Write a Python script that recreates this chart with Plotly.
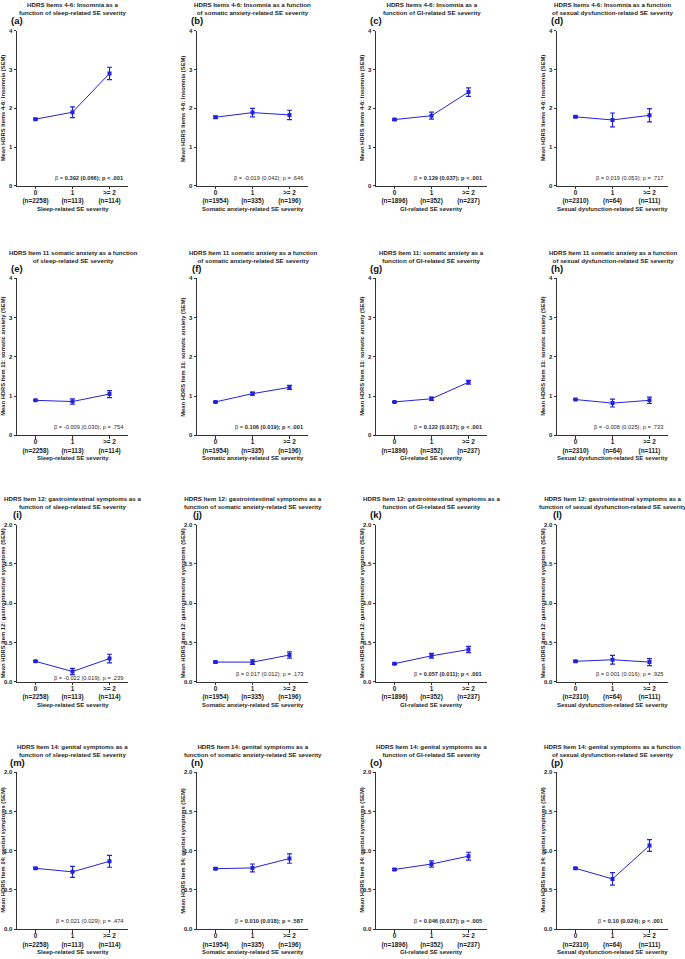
import plotly.graph_objects as go

# ---------------- data ----------------
categories = ["0", "1", ">= 2"]
cat_x = [0, 1, 2]
panel_letters = ["a", "b", "c", "d", "e", "f", "g", "h", "i", "j", "k", "l", "m", "n", "o", "p"]

predictor_titles = ["Sleep-related SE severity", "Somatic anxiety-related SE severity",
                    "GI-related SE severity", "Sexual dysfunction-related SE severity"]
n_sleep = [2258, 113, 114]
n_somatic = [1954, 335, 196]
n_gi = [1896, 352, 237]
n_sexual = [2310, 64, 111]

outcome_ylabels = ["Mean HDRS Items 4-6: Insomnia (SEM)",
                   "Mean HDRS Item 11: somatic anxiety (SEM)",
                   "Mean HDRS Item 12: gastrointestinal symptoms (SEM)",
                   "Mean HDRS Item 14: genital symptoms (SEM)"]

insomnia_titles = ["HDRS Items 4-6: Insomnia as a<br>function of sleep-related SE severity",
                   "HDRS Items 4-6: Insomnia as a function<br>of somatic anxiety-related SE severity",
                   "HDRS Items 4-6: Insomnia as a<br>function of GI-related SE severity",
                   "HDRS Items 4-6: Insomnia as a function<br>of sexual dysfunction-related SE severity"]
somatic_titles = ["HDRS Item 11 somatic anxiety as a function<br>of sleep-related SE severity",
                  "HDRS Item 11 somatic anxiety as a function<br>of somatic anxiety-related SE severity",
                  "HDRS Item 11: somatic anxiety as a<br>function of GI-related SE severity",
                  "HDRS Item 11 somatic anxiety as a function<br>of sexual dysfunction-related SE severity"]
gi_titles = ["HDRS Item 12: gastrointestinal symptoms as a<br>function of sleep-related SE severity",
             "HDRS Item 12: gastrointestinal symptoms as a<br>function of somatic anxiety-related SE severity",
             "HDRS Item 12: gastrointestinal symptoms as a<br>function of GI-related SE severity",
             "HDRS Item 12: gastrointestinal symptoms as a<br>function of sexual dysfunction-related SE severity"]
genital_titles = ["HDRS Item 14: genital symptoms as a<br>function of sleep-related SE severity",
                  "HDRS Item 14: genital symptoms as a<br>function of somatic anxiety-related SE severity",
                  "HDRS Item 14: genital symptoms as a<br>function of GI-related SE severity",
                  "HDRS Item 14: genital symptoms as a function<br>of sexual dysfunction-related SE severity"]

insomnia_mean = [[1.72, 1.90, 2.90], [1.77, 1.89, 1.83], [1.71, 1.81, 2.42], [1.78, 1.70, 1.82]]
insomnia_sem = [[0.02, 0.14, 0.16], [0.03, 0.11, 0.12], [0.02, 0.09, 0.11], [0.02, 0.18, 0.17]]
somatic_mean = [[0.89, 0.86, 1.05], [0.85, 1.06, 1.22], [0.85, 0.93, 1.35], [0.91, 0.82, 0.89]]
somatic_sem = [[0.01, 0.07, 0.09], [0.01, 0.04, 0.05], [0.01, 0.04, 0.05], [0.01, 0.10, 0.08]]
gi_mean = [[0.26, 0.13, 0.295], [0.25, 0.25, 0.34], [0.23, 0.33, 0.41], [0.26, 0.28, 0.25]]
gi_sem = [[0.01, 0.04, 0.055], [0.01, 0.03, 0.04], [0.01, 0.03, 0.04], [0.01, 0.055, 0.045]]
genital_mean = [[0.775, 0.73, 0.865], [0.77, 0.78, 0.90], [0.76, 0.83, 0.93], [0.775, 0.64, 1.065]]
genital_sem = [[0.01, 0.07, 0.076], [0.01, 0.05, 0.06], [0.01, 0.04, 0.05], [0.01, 0.08, 0.075]]

insomnia_beta = ["β = <b>0.392 (0.066); p &lt; .001</b>", "β = -0.019 (0.042); p = .646",
                 "β = <b>0.129 (0.037); p &lt; .001</b>", "β = 0.019 (0.053); p = .717"]
somatic_beta = ["β = -0.009 (0.030); p = .754", "β = <b>0.106 (0.019); p &lt; .001</b>",
                "β = <b>0.122 (0.017); p &lt; .001</b>", "β = -0.008 (0.025); p = .733"]
gi_beta = ["β = -0.022 (0.019); p = .239", "β = 0.017 (0.012); p = .173",
           "β = <b>0.057 (0.011); p &lt; .001</b>", "β = 0.001 (0.016); p = .925"]
genital_beta = ["β = 0.021 (0.029); p = .474", "β = <b>0.010 (0.018); p = .587</b>",
                "β = <b>0.046 (0.017); p = .005</b>", "β = <b>0.10 (0.024); p &lt; .001</b>"]

y_max = [4, 4, 2, 2]
y_dtick = [1, 1, 0.5, 0.5]

# ---------------- layout geometry ----------------
W, H = 685, 959
col_x0 = [17, 197, 376, 557]
plot_w = 111
row_top = [28, 277, 525, 774]
row_bot = [184, 435, 683, 932]

BLUE = "#2323d8"
AXC = "#333333"
TXT = "#1e1e1e"
FONT = "Liberation Sans, Arial, sans-serif"

means = [insomnia_mean, somatic_mean, gi_mean, genital_mean]
sems = [insomnia_sem, somatic_sem, gi_sem, genital_sem]
titles = [insomnia_titles, somatic_titles, gi_titles, genital_titles]
betas = [insomnia_beta, somatic_beta, gi_beta, genital_beta]
ns = [n_sleep, n_somatic, n_gi, n_sexual]

fig = go.Figure()
annotations = []
layout_axes = {}


def px_x(x):
    return x / W


def px_y(y):
    return 1 - y / H


for r in range(4):
    for c in range(4):
        k = r * 4 + c + 1
        xa = "x" if k == 1 else f"x{k}"
        ya = "y" if k == 1 else f"y{k}"
        fig.add_trace(go.Scatter(
            x=cat_x, y=means[r][c], xaxis=xa, yaxis=ya,
            mode="lines+markers",
            line=dict(color=BLUE, width=1),
            marker=dict(symbol="square", size=4, color=BLUE),
            error_y=dict(type="data", array=sems[r][c], color=BLUE, thickness=1.2, width=2.5),
            showlegend=False, hoverinfo="skip",
        ))
        x0 = col_x0[c]
        x1 = x0 + plot_w
        xdom = [px_x(x0), px_x(x1)]
        ydom = [px_y(row_bot[r]), px_y(row_top[r])]
        ticktext = [f"{cat}<br>(n={n})" for cat, n in zip(categories, ns[c])]
        xkey = "xaxis" if k == 1 else f"xaxis{k}"
        ykey = "yaxis" if k == 1 else f"yaxis{k}"
        layout_axes[xkey] = dict(
            domain=xdom, anchor=ya, range=[-0.5, 2.5], showgrid=False, zeroline=False,
            showline=True, linecolor=AXC, linewidth=1, ticks="outside", ticklen=2.5,
            tickcolor=AXC, tickwidth=1, tickmode="array", tickvals=cat_x, ticktext=ticktext,
            tickfont=dict(family=FONT, size=6.4, color=TXT, weight="bold"),
            ticklabelstandoff=-2,
            fixedrange=True,
        )
        yfmt = ".1f" if y_dtick[r] < 1 else "d"
        layout_axes[ykey] = dict(
            domain=ydom, anchor=xa, range=[0, y_max[r]], showgrid=False, zeroline=False,
            showline=True, linecolor=AXC, linewidth=1, ticks="outside", ticklen=2.5,
            tickcolor=AXC, tickwidth=1, dtick=y_dtick[r], tick0=0, tickformat=yfmt,
            tickfont=dict(family=FONT, size=6, color=TXT, weight="bold"),
            fixedrange=True,
        )
        cx = px_x((x0 + x1) / 2)
        # panel title
        annotations.append(dict(
            x=cx, y=px_y(row_top[r] - 22), xref="paper", yref="paper",
            text=titles[r][c], showarrow=False, xanchor="center", yanchor="middle",
            font=dict(family=FONT, size=6.2, color=TXT, weight="bold"), align="center",
        ))
        # panel letter
        annotations.append(dict(
            x=px_x(x0), y=px_y(row_top[r] - 10), xref="paper", yref="paper",
            text=f"({panel_letters[k - 1]})", showarrow=False, xanchor="center", yanchor="middle",
            font=dict(family=FONT, size=9.5, color="#111111", weight="bold"),
        ))
        # y title
        annotations.append(dict(
            x=px_x(x0 - 14), y=px_y((row_top[r] + row_bot[r]) / 2), xref="paper", yref="paper",
            text=outcome_ylabels[r], showarrow=False, xanchor="center", yanchor="middle",
            textangle=-90, font=dict(family=FONT, size=5.8, color=TXT, weight="bold"),
        ))
        # x title
        annotations.append(dict(
            x=cx, y=px_y(row_bot[r] + 23), xref="paper", yref="paper",
            text=predictor_titles[c], showarrow=False, xanchor="center", yanchor="middle",
            font=dict(family=FONT, size=6, color=TXT, weight="bold"),
        ))
        # beta annotation
        by = 4 if (r == 2 and c == 0) else 8
        annotations.append(dict(
            x=px_x(x1 - 3), y=px_y(row_bot[r] - by), xref="paper", yref="paper",
            text=betas[r][c], showarrow=False, xanchor="right", yanchor="middle",
            font=dict(family=FONT, size=5.7, color="#2a2a2a"),
        ))

fig.update_layout(
    width=W, height=H, margin=dict(l=0, r=0, t=0, b=0),
    paper_bgcolor="white", plot_bgcolor="white",
    font=dict(family=FONT, color=TXT),
    annotations=annotations, showlegend=False,
    **layout_axes,
)

fig.write_html("out.html", config={"displayModeBar": False, "staticPlot": True},
               post_script="document.body.style.margin='0';document.body.style.padding='0';"
                           "document.documentElement.style.overflow='hidden';")
